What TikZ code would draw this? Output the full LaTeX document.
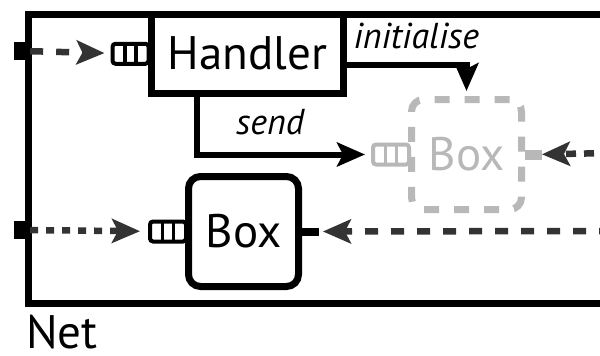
\documentclass[tikz,border=0pt]{standalone}
\usepackage{fontspec}
\setmainfont{PT Sans}
\usepackage{xcolor}
\usepackage{tikz}
\usetikzlibrary{arrows.meta}
\usetikzlibrary{calc}
\usetikzlibrary{positioning}

\definecolor{ghostgray}{HTML}{B8B8B8}
\definecolor{wiregray}{HTML}{333333}

\tikzset{queue/.style={draw=#1, line width=4pt, rounded corners=3pt, minimum width=36pt, minimum height=20pt, inner sep=0pt,
  path picture={\draw[#1, line width=3.5pt]
    ($(path picture bounding box.north west)!0.35!(path picture bounding box.north east)$) -- ($(path picture bounding box.south west)!0.35!(path picture bounding box.south east)$)
    ($(path picture bounding box.north west)!0.65!(path picture bounding box.north east)$) -- ($(path picture bounding box.south west)!0.65!(path picture bounding box.south east)$);}},
  queue/.default=black}

\begin{document}
\begin{tikzpicture}[x=1pt,y=-1pt,>={Stealth[length=28pt,width=24pt,inset=6pt]},node distance=-3pt,font=\fontsize{47}{50}\selectfont]
 \tikzstyle{frame}=[draw, line width=7pt, inner sep=0pt, anchor=north west]
 \tikzstyle{actor}=[draw, line width=7pt, fill=white, rounded corners=12pt, minimum width=110pt, minimum height=110pt, inner sep=0pt]
 \tikzstyle{ghost}=[actor, draw=ghostgray, text=ghostgray, dash pattern=on 15pt off 15pt]
 \tikzstyle{port}=[fill=black, inner sep=0pt, minimum width=16pt, minimum height=18pt]
 \tikzstyle{stub}=[fill=#1, inner sep=0pt, minimum width=17pt, minimum height=8pt, anchor=west]
 \tikzstyle{flow}=[->, line width=6pt]
 \tikzstyle{wire}=[->, wiregray, line width=6.5pt]
 \tikzstyle{tag}=[font=\fontsize{36}{40}\selectfont\itshape, inner sep=0pt]
   \useasboundingbox (0,0) rectangle (600,356);
   % the net
   \node[frame, minimum width=600pt, minimum height=289.5pt] (net) at (24.5,10.5) {};
   \node[inner sep=0pt, anchor=base west] (netname) at (26,348) {Net};
   \node[port] (inH) at (22,51) {};
   \node[port] (inB) at (22,230) {};
   \coordinate (outB) at (612,231);
   \coordinate (outG) at (612,153);
   % actors
   \node[frame, fill=white, minimum width=192.5pt, minimum height=79.5pt] (handler) at (147.5,10.5) {Handler};
   \node[actor] (box) at (243.5,231.5) {Box};
   \node[ghost] (ghostbox) at (466.5,154.5) {Box};
   % mailboxes and ports
   \node[queue] (hq) [left=of handler.west] {};
   \node[queue] (bq) [left=of box] {};
   \node[queue=ghostgray] (gq) [left=of ghostbox] {};
   \node[stub=black] (bout) at ([xshift=-0.5pt]box.east) {};
   \node[stub=ghostgray, minimum height=10pt] (gout) at ([xshift=-0.5pt]ghostbox.east) {};
   % messages
   \path
     (inH) edge[wire, dash pattern=on 13pt off 13pt, shorten >=6pt] (hq)
     (inB) edge[wire, dash pattern=on 8pt off 8pt, shorten >=8pt] (bq)
     (outB) edge[wire, dash pattern=on 13pt off 13pt, shorten >=4pt] (bout)
     (outG) edge[wire, dash pattern=on 10pt off 8pt] (gout);
   \draw[flow, shorten >=5pt] ([yshift=-11.25pt]handler.east) -| node[tag, pos=0.29, above=13pt] {initialise} (ghostbox.north);
   \draw[flow, shorten >=6pt] ([xshift=49.5pt]handler.south west) |- node[tag, pos=0.71, above=17pt] {send} (gq.west);
\end{tikzpicture}
\end{document}
